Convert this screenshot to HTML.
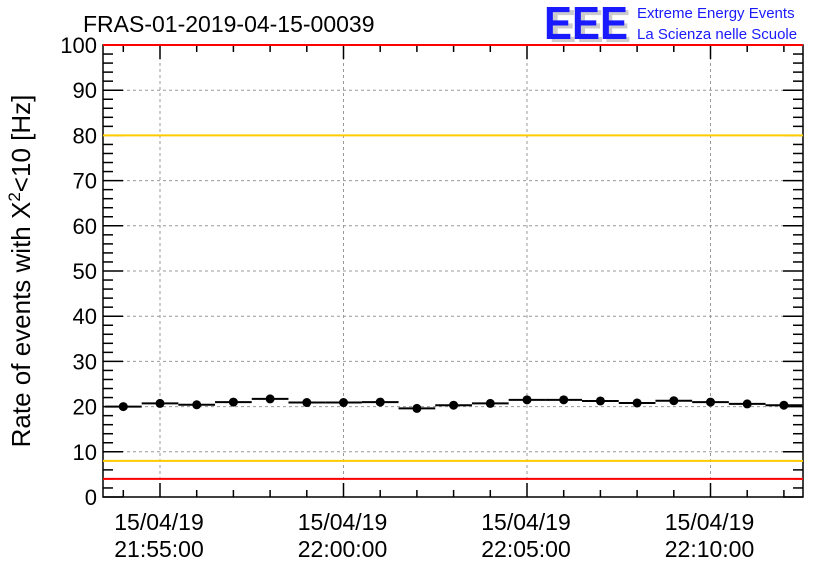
<!DOCTYPE html>
<html><head><meta charset="utf-8"><style>
body{margin:0;background:#fff;}
svg{display:block;font-family:"Liberation Sans",sans-serif;}
</style></head><body>
<svg id="chart" width="836" height="572" viewBox="0 0 836 572">
<rect x="0" y="0" width="836" height="572" fill="#fff"/>
<text x="83" y="32" font-size="23" fill="#000">FRAS-01-2019-04-15-00039</text>
<g>
<text x="549" y="42" font-size="46" font-weight="bold" fill="#ccc" textLength="82" lengthAdjust="spacingAndGlyphs">EEE</text>
<text x="544" y="39" font-size="46" font-weight="bold" fill="#1a1aff" textLength="84" lengthAdjust="spacingAndGlyphs">EEE</text>
<text x="637" y="18" font-size="15" fill="#1a1aff">Extreme Energy Events</text>
<text x="637" y="39" font-size="15" fill="#1a1aff">La Scienza nelle Scuole</text>
</g>
<g id="grid"></g><g id="axes"></g><g id="refs"></g><g id="marks"></g>
<text transform="translate(30,271) rotate(-90)" text-anchor="middle" font-size="26">Rate of events with X<tspan dy="-10" font-size="17">2</tspan><tspan dy="10">&lt;10 [Hz]</tspan></text>
</svg>
<script>
const minutes=[-1,0,1,2,3,4,5,6,7,8,9,10,11,12,13,14,15,16,17];
const rates=[20.0,20.7,20.4,21.0,21.7,20.9,20.9,21.0,19.6,20.3,20.7,21.5,21.5,21.25,20.8,21.3,21.0,20.6,20.3];
const yTicks=[0,10,20,30,40,50,60,70,80,90,100];
const xMajor=[0,5,10,15];
const xDates=["15/04/19","15/04/19","15/04/19","15/04/19"];
const xTimes=["21:55:00","22:00:00","22:05:00","22:10:00"];
const refRed=[100,4];
const refOrange=[80,8];
const L=103,R=803,T=45,B=497;
const xs=t=>160+t*36.7;
const ys=v=>B-(v/100)*(B-T);
const NS="http://www.w3.org/2000/svg";
function mk(p,tag,at){const e=document.createElementNS(NS,tag);for(const k in at)e.setAttribute(k,at[k]);document.getElementById(p).appendChild(e);return e;}
yTicks.forEach(v=>{if(v>0&&v<100){const g=mk('grid','line',{x1:L,x2:R,y1:ys(v),y2:ys(v),stroke:'#999','stroke-dasharray':'3,3','stroke-width':1});

}
const t=mk('axes','text',{x:97,y:ys(v)+8,'text-anchor':'end','font-size':22});t.textContent=v;

});
xMajor.forEach((m,i)=>{const g=mk('grid','line',{x1:xs(m),x2:xs(m),y1:T,y2:B,stroke:'#999','stroke-dasharray':'3,3','stroke-width':1});


const a=mk('axes','text',{x:xs(m)-1,y:530,'text-anchor':'middle','font-size':23});a.textContent=xDates[i];


const b=mk('axes','text',{x:xs(m)-1,y:557,'text-anchor':'middle','font-size':23});b.textContent=xTimes[i];

});
const fr=mk('axes','rect',{x:L,y:T,width:R-L,height:B-T,fill:'none',stroke:'#000','stroke-width':1.5});


for(let v=0;v<=100;v+=2){const len=v%10===0?20:10;
mk('axes','line',{x1:L,x2:L+len,y1:ys(v),y2:ys(v),stroke:'#000','stroke-width':1.5});
mk('axes','line',{x1:R-len,x2:R,y1:ys(v),y2:ys(v),stroke:'#000','stroke-width':1.5});}
for(let m=-1;m<=17;m++){const x=xs(m);if(x<L||x>R)continue;const len=m%5===0?14:7;
mk('axes','line',{x1:x,x2:x,y1:B-len,y2:B,stroke:'#000','stroke-width':1.5});
mk('axes','line',{x1:x,x2:x,y1:T,y2:T+len,stroke:'#000','stroke-width':1.5});}
refRed.forEach(v=>{const l=mk('refs','line',{x1:L,x2:R,y1:ys(v),y2:ys(v),stroke:'#f00','stroke-width':2});

});
refOrange.forEach(v=>{const l=mk('refs','line',{x1:L,x2:R,y1:ys(v),y2:ys(v),stroke:'#fc0','stroke-width':2});

});
minutes.forEach((m,i)=>{const y=ys(rates[i]);
const e=mk('marks','line',{x1:Math.max(L,xs(m-0.5)),x2:Math.min(R,xs(m+0.5)),y1:y,y2:y,stroke:'#000','stroke-width':2});


const c=mk('marks','circle',{cx:xs(m),cy:y,r:4.5,fill:'#000'});

});
</script>
</body></html>
